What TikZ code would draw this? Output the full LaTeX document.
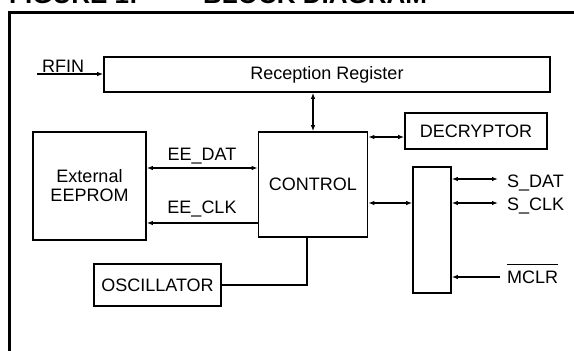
\documentclass[tikz,border=0pt]{standalone}
\usepackage{fontspec}
\setmainfont{Liberation Sans}
\usetikzlibrary{arrows.meta}
\begin{document}
\begin{tikzpicture}[x=1pt,y=-1pt,
  box/.style={draw, line width=1.7pt, inner sep=0pt, align=center,
    font=\fontsize{18}{19}\selectfont},
  lbl/.style={inner sep=0pt, font=\fontsize{18}{19}\selectfont},
  ttl/.style={inner sep=0pt, anchor=base west, font=\bfseries\fontsize{26}{28}\selectfont},
  sig/.style={line width=1.3pt},
  onetip/.style={-{Latex[length=6pt,width=4.5pt]}},
  twotips/.style={{Latex[length=6pt,width=4.5pt]}-{Latex[length=6pt,width=4.5pt]}}
]
\useasboundingbox (0,0) rectangle (574,351);
\clip (0,0) rectangle (574,351);
% title (cut off at the top)
\node[ttl] (t1) at (9,3.5) {FIGURE 1:};
\node[ttl] (t2) at (203,3.5) {BLOCK DIAGRAM};
% frame
\draw[line width=2.2pt] (9.5,12.5) rectangle (600,400);
% blocks
\node[box, minimum width=446pt, minimum height=35pt] (rr) at (327,74.5) {Reception Register};
\node[box, minimum width=109pt, minimum height=105pt] (ctrl) at (313,184.5) {CONTROL};
\node[box, minimum width=113pt, minimum height=108pt] (eep) at (89.5,186) {External\\EEPROM};
\node[box, minimum width=142pt, minimum height=36pt] (dec) at (476,131) {DECRYPTOR};
\node[box, minimum width=38pt, minimum height=126pt] (bus) at (432,230) {};
\node[box, minimum width=127pt, minimum height=42pt] (osc) at (157.5,285) {OSCILLATOR};
% helper coordinates
\coordinate (rfin) at (37,74);
\coordinate (ydat) at (0,168);
\coordinate (yclk) at (0,223);
\coordinate (ydec) at (0,137);
\coordinate (ybus) at (0,203);
\coordinate (sdat) at (498,179);
\coordinate (sclk) at (498,203);
\coordinate (mclr) at (500,277);
\coordinate (oscx) at (307,0);
% labels
\node[lbl, anchor=base west] (lrfin) at (42,72) {RFIN};
\node[lbl, anchor=base] (ldat) at (202,160) {EE\_DAT};
\node[lbl, anchor=base] (lclk) at (202,213) {EE\_CLK};
\node[lbl, anchor=base west] (lsdat) at (507,187) {S\_DAT};
\node[lbl, anchor=base west] (lsclk) at (507,210) {S\_CLK};
\node[lbl, anchor=base west] (lmclr) at (507,283) {MCLR};
\draw[line width=1.2pt] ([yshift=6pt]lmclr.north west) -- ([yshift=6pt]lmclr.north east);
% connectors
\draw[sig, onetip] (rfin) -- (rr.west |- rfin);
\draw[sig, twotips] (rr.south -| ctrl.north) -- (ctrl.north);
\draw[sig, twotips] (eep.east |- ydat) -- (ctrl.west |- ydat);
\draw[sig, onetip] (ctrl.west |- yclk) -- (eep.east |- yclk);
\draw[sig, twotips] (ctrl.east |- ydec) -- (dec.west |- ydec);
\draw[sig, twotips] (ctrl.east |- ybus) -- (bus.west |- ybus);
\draw[sig, twotips] (bus.east |- sdat) -- (sdat);
\draw[sig, twotips] (bus.east |- sclk) -- (sclk);
\draw[sig, onetip] (mclr) -- (bus.east |- mclr);
\draw[line width=1.5pt] (osc.east) -| (ctrl.south -| oscx);
\end{tikzpicture}
\end{document}
